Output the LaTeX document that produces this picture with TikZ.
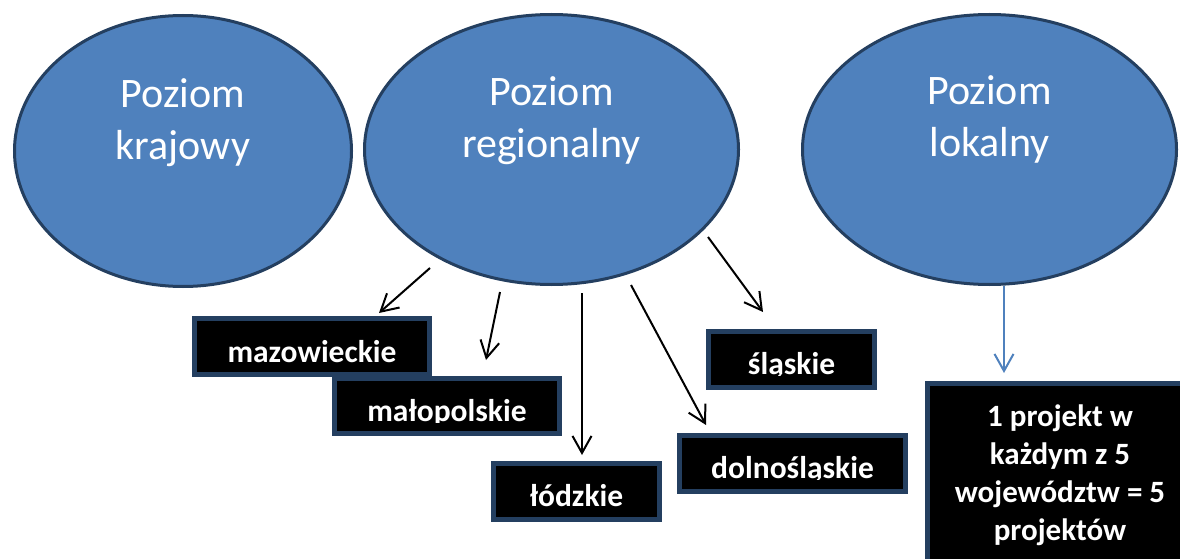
\documentclass[tikz,border=0pt]{standalone}
\usepackage{fontspec}
\setmainfont{Carlito}
\usetikzlibrary{arrows.meta,shapes.geometric}
\definecolor{ellfill}{HTML}{4F81BD}
\definecolor{navy}{HTML}{243F60}
\begin{document}
\begin{tikzpicture}[x=1pt,y=-1pt,
  level/.style={ellipse, draw=navy, line width=3pt, fill=ellfill, inner sep=0pt},
  leveltext/.style={text=white, font=\fontsize{42}{52}\selectfont, align=center, anchor=north, inner sep=0pt},
  region/.style={rectangle, draw=navy, line width=5pt, fill=black, inner sep=0pt},
  regiontext/.style={text=white, font=\bfseries\fontsize{31.5}{38}\selectfont, anchor=base, inner sep=0pt},
  bigtext/.style={text=white, font=\bfseries\fontsize{31}{38}\selectfont, align=center, anchor=north, inner sep=0pt},
  arr/.style={draw=black, line width=2pt, -{Straight Barb[length=17pt,width=19pt]}},
  bluearr/.style={arr, draw=ellfill}]
\useasboundingbox (0,0) rectangle (1180,559);
\clip (0,0) rectangle (1180,559);
\fill[white] (0,0) rectangle (1180,559);

% levels
\node[level, minimum width=337pt, minimum height=271pt] (kraj) at (183,151) {};
\node[level, minimum width=374pt, minimum height=270pt] (reg) at (551.5,149.5) {};
\node[level, minimum width=374pt, minimum height=270pt] (lok) at (989.5,149.5) {};
\node[leveltext] (krajt) at (183,78) {Poziom\\krajowy};
\node[leveltext] (regt) at (551.5,76.5) {Poziom\\regionalny};
\node[leveltext] (lokt) at (989.5,75.5) {Poziom\\lokalny};

% regions
\node[region, minimum width=235pt, minimum height=56pt] (maz) at (312,346.5) {};
\node[regiontext] (mazt) at (312,362) {mazowieckie};
\node[region, minimum width=225pt, minimum height=55pt] (mal) at (447,406) {};
\begin{scope}
\clip (332,376) rectangle (562,422);
\node[regiontext] (malt) at (447,421) {małopolskie};
\end{scope}
\node[region, minimum width=166pt, minimum height=56pt] (lodz) at (576.5,491.5) {};
\node[regiontext] (lodzt) at (576.5,506) {łódzkie};
\node[region, minimum width=166pt, minimum height=56pt] (sl) at (791.5,359.5) {};
\begin{scope}
\clip (706,329) rectangle (877,375);
\node[regiontext] (slt) at (791.5,374) {śląskie};
\end{scope}
\node[region, minimum width=226pt, minimum height=56pt] (dol) at (792.5,463.5) {};
\begin{scope}
\clip (677,433) rectangle (908,479);
\node[regiontext] (dolt) at (792.5,478) {dolnośląskie};
\end{scope}
\node[region, minimum width=265pt, minimum height=234pt] (big) at (1060,500.5) {};
\node[bigtext] (bigt) at (1060,404.5) {1 projekt w\\każdym z 5\\województw = 5\\projektów};

% connector ends
\coordinate (a1s) at (430,268); \coordinate (a1e) at (379,313);
\coordinate (a2s) at (500,292); \coordinate (a2e) at (486,360);
\coordinate (a3s) at (582,293); \coordinate (a3e) at (582,455);
\coordinate (a4s) at (631,285); \coordinate (a4e) at (706,425);
\coordinate (a5s) at (708,237); \coordinate (a5e) at (763,312);
\coordinate (b1s) at (1004,286); \coordinate (b1e) at (1004,373);

\draw[arr] (a1s) -- (a1e);
\draw[arr] (a2s) -- (a2e);
\draw[arr] (a3s) -- (a3e);
\draw[arr] (a4s) -- (a4e);
\draw[arr] (a5s) -- (a5e);
\draw[bluearr] (b1s) -- (b1e);
\end{tikzpicture}
\end{document}
